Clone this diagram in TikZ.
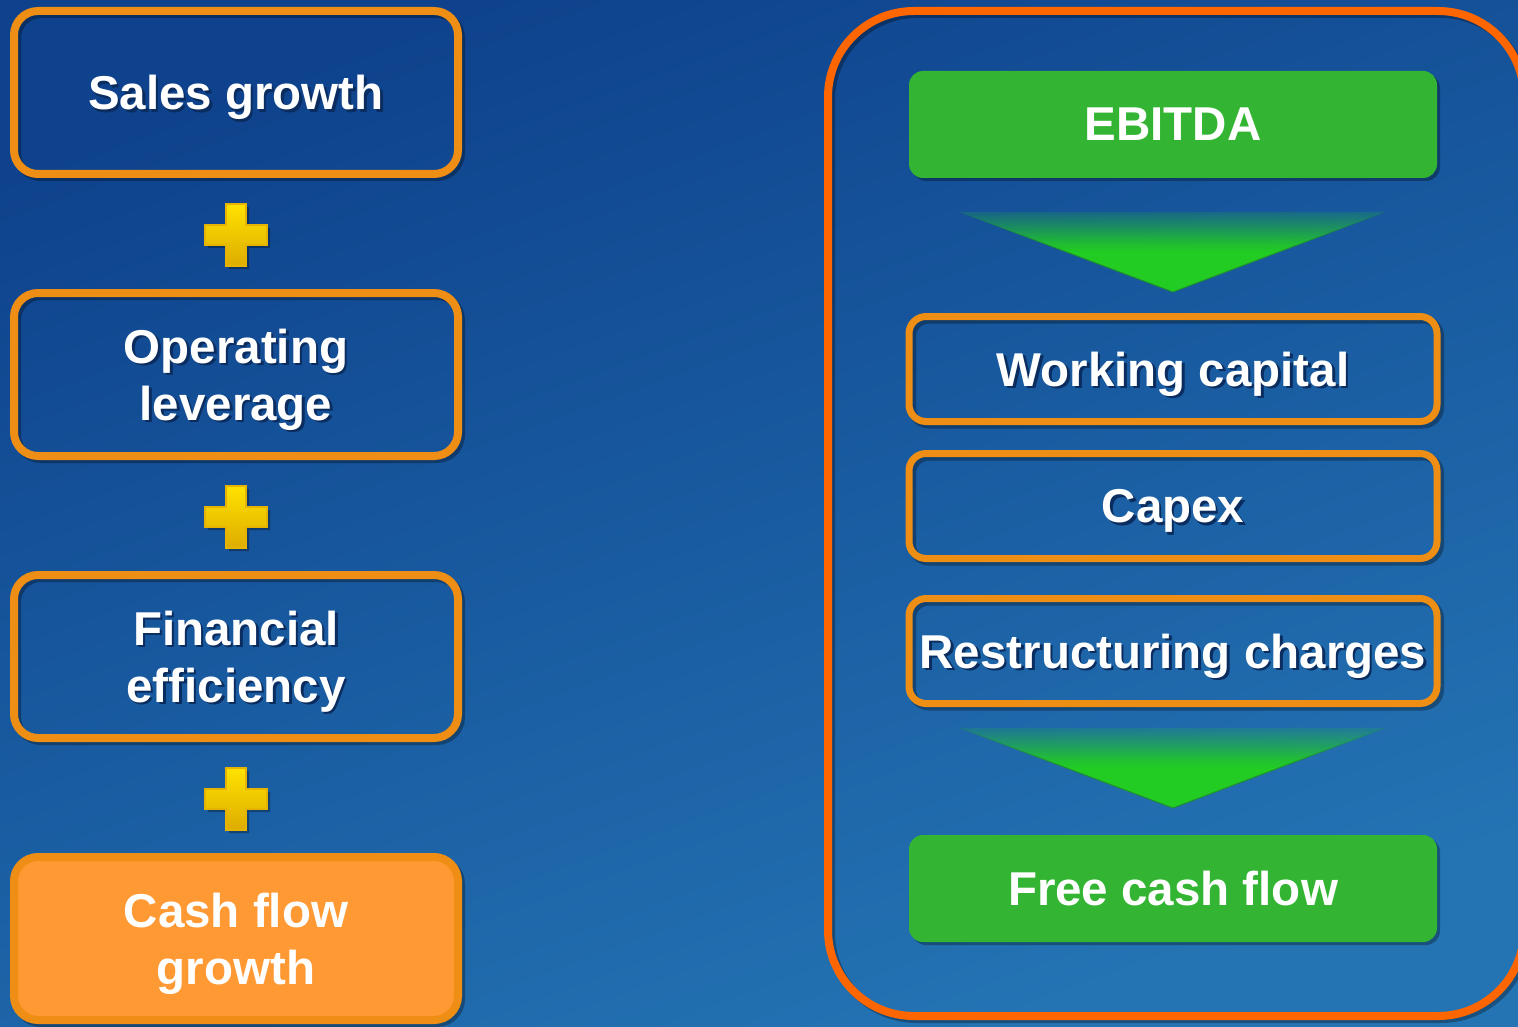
\documentclass[tikz,border=0pt]{standalone}
\usepackage{fontspec}
\setmainfont{Liberation Sans}
\usepackage{xcolor}
\usetikzlibrary{shapes,positioning,fadings}

\definecolor{bgtop}{HTML}{0E428C}
\definecolor{bgbot}{HTML}{2474B4}
\definecolor{boxline}{HTML}{EE8E14}
\definecolor{frameline}{HTML}{FF6600}
\definecolor{boxgreen}{HTML}{33B533}
\definecolor{arrowgreen}{HTML}{22CC22}
\definecolor{arrowedge}{HTML}{1F8F2F}
\definecolor{cashfill}{HTML}{FF9933}
\definecolor{plustop}{HTML}{FFE200}
\definecolor{plusbot}{HTML}{DDAC00}
\definecolor{plusline}{HTML}{E6B400}
\definecolor{txtshadow}{HTML}{0A2C5E}

% opaque in the lower half, fading out towards the top (path box = 25bp..75bp)
\pgfdeclareverticalshading{arrowfadeshade}{100bp}{color(0bp)=(pgftransparent!0); color(50bp)=(pgftransparent!0); color(55bp)=(pgftransparent!12); color(65bp)=(pgftransparent!50); color(75bp)=(pgftransparent!85); color(100bp)=(pgftransparent!85)}
\pgfdeclarefading{arrowfade}{\pgfuseshading{arrowfadeshade}}

% white text with a dark copy behind it
\newcommand{\shd}[1]{\leavevmode\rlap{\kern2.5pt\raisebox{-2.5pt}{\color{txtshadow}#1}}#1}

\tikzset{
	bigtext/.style={text=white, font=\fontsize{47.5}{57}\selectfont\bfseries, align=center, inner sep=0pt, text depth=0pt},
	shadowline/.style={preaction={draw=black, draw opacity=0.3, line width=8pt, transform canvas={xshift=3pt, yshift=-3pt}}},
	shadowfill/.style={preaction={fill=black, fill opacity=0.3, transform canvas={xshift=3pt, yshift=-3pt}}},
	leftbox/.style={bigtext, shadowline, draw=boxline, line width=8pt, rounded corners=24pt, minimum width=444pt, minimum height=163pt},
	rightbox/.style={bigtext, shadowline, draw=boxline, line width=7pt, rounded corners=17pt, minimum width=528pt, minimum height=105pt},
	greenbox/.style={bigtext, shadowfill, fill=boxgreen, rounded corners=14pt, minimum width=528pt, minimum height=107pt},
	arrowtri/.style={fill=arrowgreen, draw=arrowedge, line width=1pt, path fading=arrowfade},
	addsign/.pic={
		\path[shadowfill, top color=plustop, bottom color=plusbot, draw=plusline, line width=1.5pt]
			(-10,-31) -- (10,-31) -- (10,-10) -- (31,-10) -- (31,10) -- (10,10) -- (10,31)
			-- (-10,31) -- (-10,10) -- (-31,10) -- (-31,-10) -- (-10,-10) -- cycle;
	}
}

\begin{document}
\begin{tikzpicture}[x=1pt, y=-1pt] % {{{
		\pgfmathsetmacro{\rowstep}{282}
		\useasboundingbox (0,0) rectangle (1518,1027);
		\shade[top color=bgtop, bottom color=bgbot, shading angle=20] (0,0) rectangle (1518,1027);
		% Left column {{{
		\node[leftbox] (sales) at (236,92.5) {\shd{Sales growth}};
		\pic at (236,235) {addsign};
		\begin{scope}[shift={(0,\rowstep)}]
		\node[leftbox] (oplev) at (236,92.5) {\shd{Operating}\\\shd{leverage}};
		\pic at (236,235) {addsign};
		\end{scope}
		\begin{scope}[shift={(0,2*\rowstep)}]
		\node[leftbox] (fineff) at (236,92.5) {\shd{Financial}\\\shd{efficiency}};
		\pic at (236,235) {addsign};
		\end{scope}
		\begin{scope}[shift={(0,3*\rowstep)}]
		\node[leftbox, fill=cashfill] (cfgrowth) at (236,92.5) {Cash flow\\growth};
		\end{scope} % }}}
		% Right column {{{
		\draw[shadowline, frameline, line width=8pt, rounded corners=86pt] (828,11) rectangle (1524,1016);
		\node[greenbox] (ebitda) at (1173,124.5) {EBITDA};
		\path[arrowtri] (960,212) -- (1173,292) -- (1385,212);
		\node[rightbox] (wcap) at (1173,369) {\shd{Working capital}};
		\node[rightbox] (capex) at (1173,506) {\shd{Capex}};
		\node[rightbox] (restr) at (1173,651) {\shd{Restructuring charges}};
		\path[arrowtri] (960,728) -- (1173,808) -- (1385,728);
		\node[greenbox] (fcf) at (1173,888.5) {Free cash flow};
		% }}}
\end{tikzpicture} % }}}
\end{document}
